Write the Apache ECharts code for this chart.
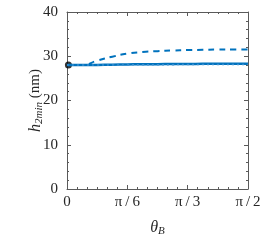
<!DOCTYPE html>
<html><head><meta charset="utf-8">
<script src="https://cdn.jsdelivr.net/npm/echarts@6/dist/echarts.min.js"></script>
<style>html,body{margin:0;padding:0;background:#fff}#c{width:266px;height:242px}</style>
</head><body><div id="c"></div>
<script>
// theta in degrees (0..90 = 0..pi/2)
const thetaDeg = [0, 7.5, 15, 22.5, 30, 37.5, 45, 52.5, 60, 67.5, 75, 82.5, 90];
const solidVals = [28.0, 28.0, 28.05, 28.1, 28.15, 28.2, 28.2, 28.25, 28.25, 28.3, 28.3, 28.3, 28.3];
const dottedVals = [28.0, 28.0, 28.0, 28.05, 28.05, 28.1, 28.1, 28.1, 28.15, 28.15, 28.15, 28.15, 28.15];
const dashedVals = [28.0, 28.0, 29.0, 29.9, 30.6, 30.95, 31.15, 31.3, 31.4, 31.45, 31.5, 31.5, 31.5];
const dotPoint = [[0.7, 28.0]];
const xTickLabels = ['0', 'π/6', 'π/3', 'π/2'];
const yTicks = [0, 10, 20, 30, 40];

const zip = (xs, ys) => xs.map((x, i) => [x, ys[i]]);
const blue = '#0072BD';
const axisCol = '#5a5a5a';
const txtCol = '#262626';
const font = "'Liberation Serif', 'DejaVu Serif', serif";

const chart = echarts.init(document.getElementById('c'), null, {renderer: 'canvas'});
const baseX = {
  type: 'value', min: 0, max: 90, interval: 30,
  axisLine: {show: true, onZero: false, lineStyle: {color: axisCol, width: 1}},
  axisTick: {show: true, inside: true, length: 4, lineStyle: {color: axisCol}},
  minorTick: {show: true, splitNumber: 6, length: 2, lineStyle: {color: axisCol}},
  splitLine: {show: false}
};
const baseY = {
  type: 'value', min: 0, max: 40, interval: 10,
  axisLine: {show: true, onZero: false, lineStyle: {color: axisCol, width: 1}},
  axisTick: {show: true, inside: true, length: 4, lineStyle: {color: axisCol}},
  minorTick: {show: true, splitNumber: 5, length: 2, lineStyle: {color: axisCol}},
  splitLine: {show: false}
};
chart.setOption({
  animation: false,
  grid: {left: 67, right: 18, top: 12, bottom: 48, containLabel: false},
  xAxis: [
    Object.assign({}, baseX, {
      position: 'bottom',
      axisLabel: {show: true, color: txtCol, fontFamily: font, fontSize: 15, margin: 6,
        formatter: v => xTickLabels[Math.round(v / 30)].replace('/', '\u2009/\u2009')},
      name: '{i|θ}{s|B}', nameLocation: 'middle', nameGap: 29, nameMoveOverlap: false,
      nameTextStyle: {color: txtCol, fontFamily: font,
        rich: {i: {fontSize: 16, fontStyle: 'italic', fontFamily: font, color: txtCol},
               s: {fontSize: 11, fontStyle: 'italic', fontFamily: font, color: txtCol, padding: [8, 0, 0, 0]}}}
    }),
    Object.assign({}, baseX, {position: 'top', axisLabel: {show: false}})
  ],
  yAxis: [
    Object.assign({}, baseY, {
      position: 'left',
      axisLabel: {show: true, color: txtCol, fontFamily: font, fontSize: 15, margin: 9,
        formatter: v => yTicks.includes(v) ? String(v) : ''},
      name: '{i|h}{s|2min}{n| (nm)}', nameLocation: 'middle', nameGap: 22, nameRotate: 90,
      nameMoveOverlap: false,
      nameTextStyle: {color: txtCol, fontFamily: font,
        rich: {i: {fontSize: 16, fontStyle: 'italic', fontFamily: font, color: txtCol},
               s: {fontSize: 11, fontStyle: 'italic', fontFamily: font, color: txtCol, padding: [8, 0, 0, 0]},
               n: {fontSize: 15, fontFamily: font, color: txtCol}}}
    }),
    Object.assign({}, baseY, {position: 'right', axisLabel: {show: false}})
  ],
  series: [
    {type: 'line', data: zip(thetaDeg, dashedVals), showSymbol: false, smooth: true,
      lineStyle: {color: blue, width: 2, type: [6, 5]}},
    {type: 'line', data: zip(thetaDeg, solidVals), showSymbol: false, smooth: true,
      lineStyle: {color: blue, width: 2.5, type: 'solid'}},
    {type: 'line', data: zip(thetaDeg, dottedVals), showSymbol: false, smooth: true,
      lineStyle: {color: '#3a8fd0', width: 1.5, type: [2, 3]}},
    {type: 'scatter', data: dotPoint, symbolSize: 7, itemStyle: {color: '#000'}}
  ]
});
</script></body></html>
